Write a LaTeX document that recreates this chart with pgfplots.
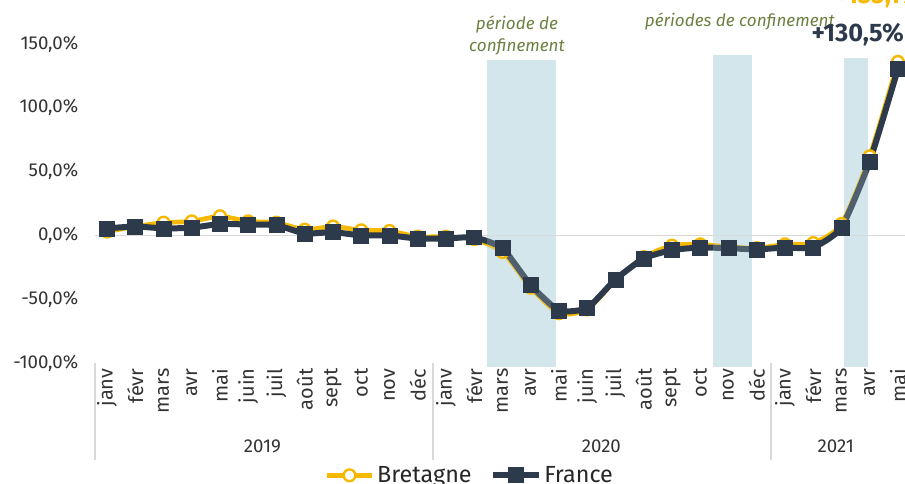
\documentclass[border=0pt]{standalone}
\usepackage{pgfplots}
\pgfplotsset{compat=1.18}
\usepackage{fontspec}
\setmainfont{Fira Sans}
\definecolor{bret}{HTML}{F7B900}
\definecolor{fra}{HTML}{2C3A4B}
\definecolor{shadecol}{HTML}{D2E6EB}
\definecolor{olive}{HTML}{6B8040}
\definecolor{sep}{HTML}{D9D9D9}
\begin{document}
\begin{tikzpicture}
\begin{axis}[
  at={(0pt,0pt)}, anchor=south west,
  scale only axis, width=607.5pt, height=239.25pt,
  xmin=-0.425, xmax=28.25, ymin=-100, ymax=150,
  clip=false,
  axis line style={draw=none},
  tick style={draw=none},
  xtick={0,...,28},
  xticklabels={janv,févr,mars,avr,mai,juin,juil,août,sept,oct,nov,déc,janv,févr,mars,avr,mai,juin,juil,août,sept,oct,nov,déc,janv,févr,mars,avr,mai},
  xticklabel style={yshift=-3pt, rotate=90, anchor=east, font=\fontsize{15}{17}\selectfont, text=black!80, inner sep=1pt},
  ytick={-100,-50,0,50,100,150},
  yticklabels={-100{,}0\%,-50{,}0\%,0{,}0\%,50{,}0\%,100{,}0\%,150{,}0\%},
  yticklabel style={font=\fontsize{14}{16}\selectfont, text=black!80, xshift=-9pt},
  legend style={at={(0.463,-0.352)}, anchor=center, draw=none, fill=none, legend columns=2,
    font=\fontsize{17.5}{19}\selectfont, text=black!85,
    /tikz/every even column/.append style={column sep=12pt}},
  legend image code/.code={
    \draw[mark repeat=2,mark phase=2] plot coordinates {(0pt,0pt)(17pt,0pt)(34pt,0pt)};},
]
% shades
\fill[shadecol] (axis cs:13.45,-103.5) rectangle (axis cs:15.9,137.8);
\fill[shadecol] (axis cs:21.45,-103.5) rectangle (axis cs:22.83,141.7);
\fill[shadecol] (axis cs:26.1,-103.5) rectangle (axis cs:26.95,139.4);
% zero line
\draw[sep, line width=1.2pt] (axis cs:-0.425,0) -- (axis cs:28.25,0);
% separators
\draw[sep, line width=1pt] (axis cs:-0.425,-100) -- (axis cs:-0.425,-176);
\draw[sep, line width=1pt] (axis cs:11.54,-100) -- (axis cs:11.54,-176);
\draw[sep, line width=1pt] (axis cs:23.5,-100) -- (axis cs:23.5,-176);

\addplot[bret, line width=3.5pt, smooth, tension=0.4, mark=*, mark size=4.4pt,
  mark options={fill=white, draw=bret, line width=1.8pt}] coordinates {
(0,3) (1,7) (2,10) (3,11) (4,15) (5,11) (6,10) (7,4.5) (8,7) (9,4) (10,3.5) (11,-1)
(12,-1) (13,-3) (14,-13) (15,-41) (16,-61) (17,-58) (18,-35) (19,-17) (20,-8) (21,-7) (22,-9) (23,-10)
(24,-7) (25,-6) (26,9) (27,62) (28,136)};
\addlegendentry{Bretagne}
\addplot[fra, line width=4.5pt, smooth, tension=0.3, mark=square*, mark size=5.6pt,
  mark options={fill=fra, draw=fra, line width=0.5pt}] coordinates {
(0,5.5) (1,7) (2,5.5) (3,6) (4,9) (5,8.5) (6,8) (7,1.5) (8,2.5) (9,0) (10,0) (11,-2.5)
(12,-2.5) (13,-1.5) (14,-10) (15,-39) (16,-59) (17,-57) (18,-34.5) (19,-18) (20,-11.5) (21,-9.5) (22,-10) (23,-11)
(24,-9.5) (25,-9.5) (26,6) (27,58) (28,130.5)};
\addlegendentry{France}
% overlay
\fill[shadecol, opacity=0.22] (axis cs:13.45,-103.5) rectangle (axis cs:15.9,137.8);
\fill[shadecol, opacity=0.22] (axis cs:21.45,-103.5) rectangle (axis cs:22.83,141.7);
\fill[shadecol, opacity=0.22] (axis cs:26.1,-103.5) rectangle (axis cs:26.95,139.4);
% texts
\node[align=center, text=olive, font=\fontsize{12.8}{16.5}\selectfont\itshape] at (axis cs:14.51,156.6) {période de\\confinement};
\node[text=olive, font=\fontsize{12.8}{14}\selectfont\itshape] at (axis cs:22.4,167.6) {périodes de confinement};
\node[text=fra, font=\fontsize{19}{21}\selectfont\bfseries] at (axis cs:26.58,157.4) {+130,5\%};
\node[text=bret, font=\fontsize{19}{21}\selectfont\bfseries] at (axis cs:27.3,187) {+135,1\%};
% years
\node[font=\fontsize{14}{16}\selectfont, text=black!80] at (axis cs:5.5,-165) {2019};
\node[font=\fontsize{14}{16}\selectfont, text=black!80] at (axis cs:17.5,-165) {2020};
\node[font=\fontsize{14}{16}\selectfont, text=black!80] at (axis cs:25.8,-165) {2021};
\end{axis}
\pgfresetboundingbox
\useasboundingbox (-71.25pt,-90pt) rectangle (607.5pt,272.25pt);
\end{tikzpicture}
\end{document}
